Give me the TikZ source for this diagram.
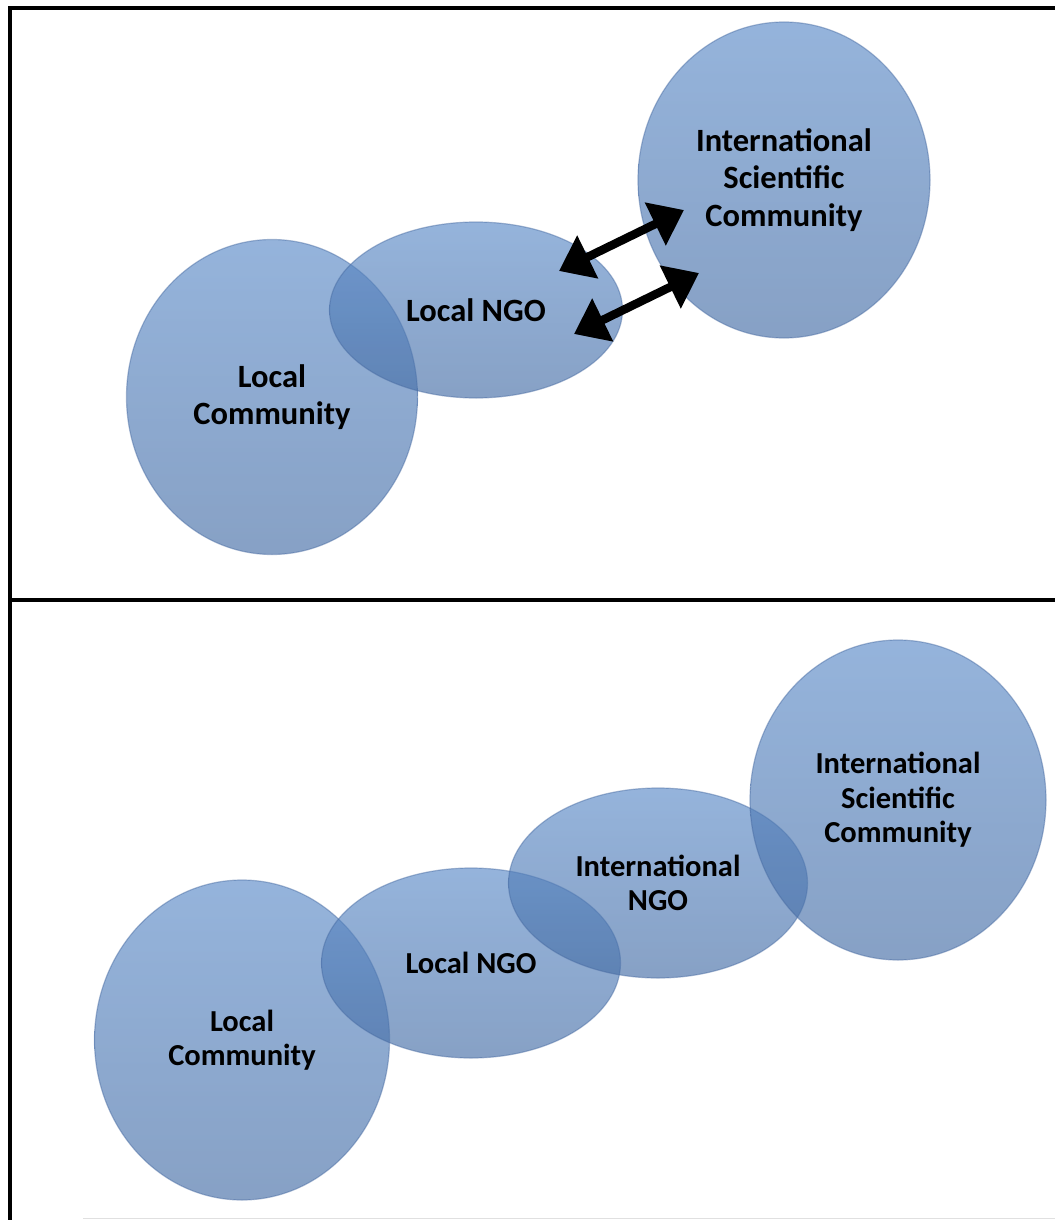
\documentclass[tikz,border=0pt]{standalone}
\usepackage{fontspec}
\setmainfont{Carlito}
\usetikzlibrary{shapes.geometric, arrows.meta}

\definecolor{blobtop}{RGB}{92,139,200}
\definecolor{blobbot}{RGB}{70,110,166}
\definecolor{blobrim}{RGB}{70,105,160}

\tikzset{
  blob/.style={ellipse, inner sep=0pt, top color=blobtop, bottom color=blobbot,
               fill opacity=0.65, draw=blobrim, draw opacity=0.45,
               line width=1.2pt, text opacity=1, align=center},
  bigtext/.style={font=\bfseries\fontsize{32.5}{37.5}\selectfont},
  smalltext/.style={font=\bfseries\fontsize{30.5}{34.5}\selectfont},
  frame/.style={line width=4pt, black, line join=miter},
  twoway/.style={line width=8.5pt, {Triangle[length=32pt,width=46pt]}-{Triangle[length=32pt,width=46pt]}}
}

\begin{document}
\begin{tikzpicture}[x=1pt, y=-1pt]
    \useasboundingbox (0, 0) rectangle (1055, 1220);

    % Top panel
    \node [blob, bigtext, minimum width=291pt, minimum height=315pt]
          (lcTop) at (272, 397) {Local\\Community};
    \node [blob, bigtext, minimum width=293pt, minimum height=176pt]
          (ngoTop) at (476, 310) {Local NGO};
    \node [blob, bigtext, minimum width=292pt, minimum height=316pt]
          (iscTop) at (784, 180) {International\\Scientific\\Community};

    % Exchange between local NGO and scientists
    \coordinate (ngoA) at (559, 271);
    \coordinate (iscA) at (684, 210);
    \coordinate (ngoB) at (574, 334);
    \coordinate (iscB) at (699, 273);
    \draw [twoway] (ngoA) -- (iscA);
    \draw [twoway] (ngoB) -- (iscB);

    % Bottom panel
    \node [blob, smalltext, minimum width=295pt, minimum height=320pt]
          (lcBot) at (242, 1040) {Local\\Community};
    \node [blob, smalltext, minimum width=299pt, minimum height=190pt]
          (ngoBot) at (471, 963) {Local NGO};
    \node [blob, smalltext, minimum width=299pt, minimum height=190pt]
          (ingoBot) at (658, 883) {International\\NGO};
    \node [blob, smalltext, minimum width=296pt, minimum height=320pt]
          (iscBot) at (898, 800) {International\\Scientific\\Community};

    % Frame
    \draw [frame] (10, 1220) -- (10, 8.5) -- (1055, 8.5);
    \draw [frame] (10, 600) -- (1055, 600);
    \draw [black!12] (83, 1218.5) -- (1055, 1218.5);
\end{tikzpicture}
\end{document}
